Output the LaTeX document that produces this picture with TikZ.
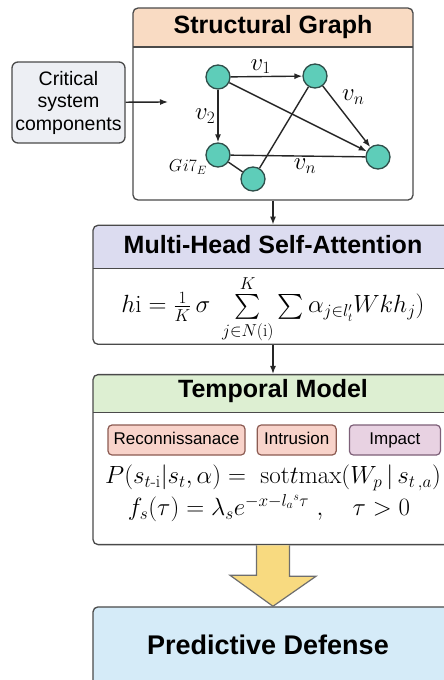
\documentclass[tikz,border=0pt]{standalone}
\usepackage{amsmath}
\usepackage{fontspec}
\setsansfont{Liberation Sans}
\usepackage{xcolor}
\definecolor{cEdge}{HTML}{4A4A4A}
\definecolor{cHeadSG}{HTML}{F9DBC3}
\definecolor{cHeadMH}{HTML}{DCDCF0}
\definecolor{cHeadTM}{HTML}{DDEFD2}
\definecolor{cPred}{HTML}{D5EBF8}
\definecolor{cComp}{HTML}{EDEFF4}
\definecolor{cNode}{HTML}{5ECDB9}
\definecolor{cNodeEdge}{HTML}{2F4F4A}
\definecolor{cTagRed}{HTML}{F8D3CA}
\definecolor{cTagRedEdge}{HTML}{8C5B52}
\definecolor{cTagPur}{HTML}{E8D2E2}
\definecolor{cTagPurEdge}{HTML}{7D6078}
\definecolor{cYellow}{HTML}{F8DA80}
\usepackage{tikz}
\usetikzlibrary{positioning,arrows.meta}
\tikzset{
  panel/.style={draw=cEdge,line width=1.3pt,rounded corners=5pt,fill=white,
    inner sep=0pt},
  panel-head/.style 2 args={panel,path picture={
      \fill[#1,sharp corners] (path picture bounding box.north west) rectangle
        ([yshift=-#2]path picture bounding box.north east);
      \draw[cEdge,line width=1.3pt,sharp corners]
        ([yshift=-#2]path picture bounding box.north west) --
        ([yshift=-#2]path picture bounding box.north east);}},
  head-text/.style={font=\sffamily\bfseries\fontsize{25}{30}\selectfont},
  node-comp/.style={draw=cEdge,line width=1.3pt,rounded corners=6pt,fill=cComp,
    minimum width=113pt,minimum height=81pt,align=center,
    font=\sffamily\fontsize{19.5}{22.5}\selectfont},
  node-graph/.style={draw=cNodeEdge,line width=1.3pt,circle,fill=cNode,
    minimum size=24pt,inner sep=0pt},
  node-tag/.style={draw=cTagRedEdge,line width=1.2pt,rounded corners=4pt,
    fill=cTagRed,minimum height=30pt,inner sep=0pt,text height=12.5pt,
    text depth=3.5pt,font=\sffamily\fontsize{17}{20}\selectfont},
  node-tag-imp/.style={node-tag,draw=cTagPurEdge,fill=cTagPur},
  eq/.style={font=\fontsize{25}{30}\selectfont,inner sep=0pt},
  g-label/.style={font=\fontsize{24}{28}\selectfont,inner sep=2pt},
  arrow/.style={-{Latex[length=8pt,width=6pt]},line width=1.4pt,draw=black!85},
  edge-plain/.style={line width=1.4pt,draw=black!85},
  fat-arrow/.style={draw=cEdge!80,line width=1.2pt,fill=cYellow,line join=miter},
}

\begin{document}
\begin{tikzpicture}[x=1pt,y=-1pt]
  \useasboundingbox (0,0) rectangle (444,680);
  \clip (0,0) rectangle (444,680);
  % panels
  \node[panel-head={cHeadSG}{39pt},minimum width=280pt,minimum height=192pt]
    (sg) at (273,104) {};
  \node[head-text] (sgt) at (273,27) {Structural Graph};
  \node[panel-head={cHeadMH}{43pt},minimum width=360pt,minimum height=119pt,
    below=24pt of sg] (mh) {};
  \node[head-text] (mht) at (273,245) {Multi-Head Self-Attention};
  \node[panel-head={cHeadTM}{38pt},minimum width=360pt,minimum height=170pt,
    below=29pt of mh] (tm) {};
  \node[head-text] (tmt) at (273,391) {Temporal Model};
  \node[panel,fill=cPred,minimum width=360pt,minimum height=110pt,
    below=61pt of tm] (pd) {};
  \node[font=\sffamily\bfseries\fontsize{27}{30}\selectfont] (pdt) at (268,645)
    {Predictive Defense};

  % input
  \node[node-comp] (comp) at (68.5,102.5) {Critical\\system\\components};
  \coordinate (gin) at (168,102);
  \draw[arrow] (comp) -- (gin);

  % graph
  \node[node-graph] (g1) at (218,77) {};
  \node[node-graph] (g2) at (315,76) {};
  \node[node-graph] (g3) at (218,155) {};
  \node[node-graph] (g4) at (378,157) {};
  \node[node-graph] (g5) at (253,179) {};
  \draw[arrow] (g1) -- node[g-label,above,pos=0.42] {$v_1$} (g2);
  \draw[arrow] (g1) -- node[g-label,left] {$v_2$} (g3);
  \draw[arrow] (g1) -- (g4);
  \draw[arrow] (g2) -- node[g-label,above right,pos=0.35] {$v_n$} (g4);
  \draw[edge-plain] (g3) -- node[g-label,below right,pos=0.45] {$v_n$} (g4);
  \draw[edge-plain] (g2) -- (g5);
  \draw[edge-plain] (g3) -- (g5);
  \node[g-label,font=\fontsize{18}{22}\selectfont,anchor=east,inner sep=0pt]
    (gl) at (207,167) {$G\mkern1mu i7_{E}$};

  % attention
  \node[eq] (eqh) at (273,309)
    {$h\mathrm{i} = \tfrac{1}{K}\,\sigma\ \sum\limits_{j\in N(\mathrm{i})}^{K}
      \sum\alpha_{j\in l'_t}Wkh_j)$};

  % temporal
  \node[node-tag,minimum width=137pt] (rec) at (176.5,440) {Reconnissanace};
  \node[node-tag,minimum width=79pt,right=11pt of rec] (intr) {Intrusion};
  \node[node-tag-imp,minimum width=91pt,right=12pt of intr] (imp) {Impact};
  \node[eq] (eqp) at (273,478)
    {$P(s_{t\text{-i}}|s_t,\alpha)=\ \mathrm{sot}t\mathrm{max}(W_p\,|\,s_{t\,,a})$};
  \node[eq] (eqf) at (269,508)
    {$f_s(\tau)=\lambda_s e^{-x-l_a{}^s\tau}\ ,\quad \tau>0$};

  \draw[arrow] (sg) -- (mh);
  \draw[arrow] (mh) -- (tm);
  \draw[fat-arrow] ([xshift=-16.5pt]tm.south) -- ++(0,30) -- ++(-26.5,0)
    -- (pd.north) -- ++(43,-30) -- ++(-26.5,0) -- ([xshift=16.5pt]tm.south);
\end{tikzpicture}
\end{document}
